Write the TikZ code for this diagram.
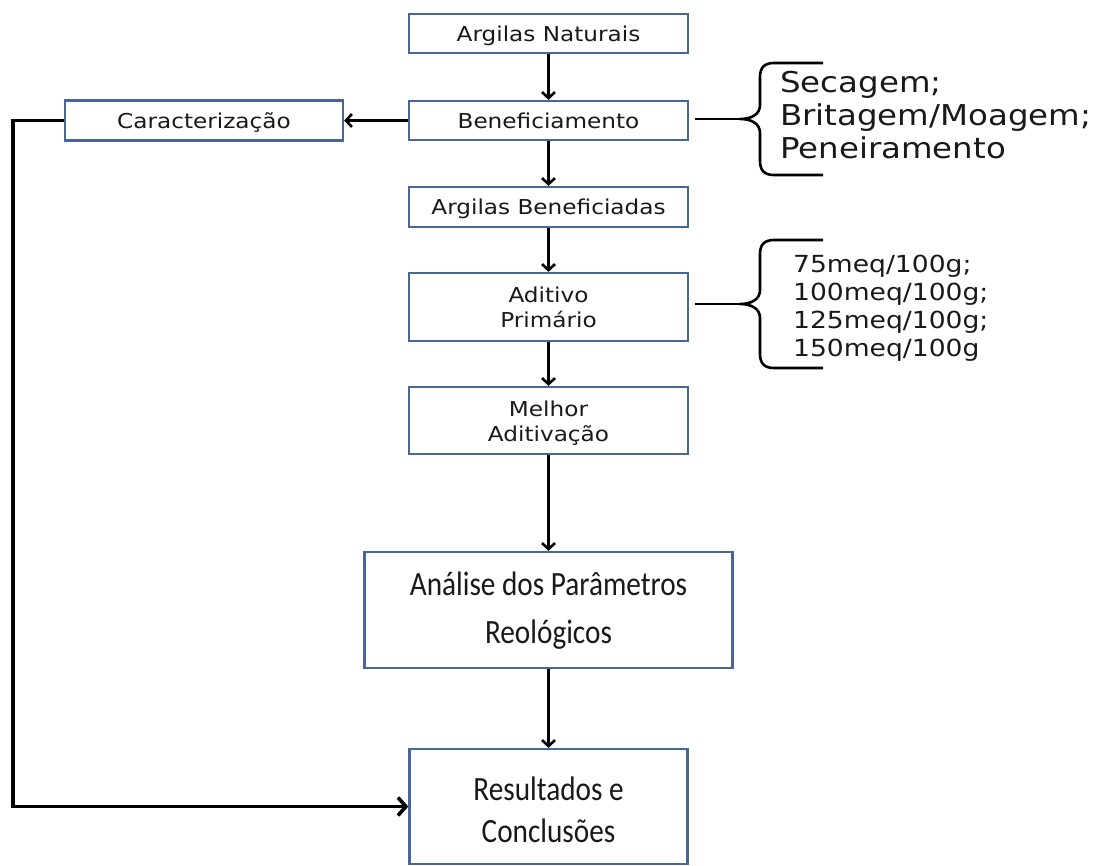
\documentclass[tikz,border=0pt]{standalone}
\usepackage{fontspec}
\usetikzlibrary{arrows.meta}
\newfontfamily\boxfont[FakeStretch=1.13]{DejaVu Sans}
\newfontfamily\bigfont[FakeStretch=0.86]{Carlito}
\definecolor{boxblue}{RGB}{72,102,150}
\definecolor{txt}{RGB}{25,25,25}
\tikzset{
  flow/.style={draw=boxblue, line width=2.3pt, inner sep=0pt, fill=white, text=txt,
    font=\boxfont\fontsize{20.5}{25}\selectfont, minimum width=279pt},
  bigflow/.style={flow, font=\bigfont\fontsize{34}{48}\selectfont},
  arr/.style={line width=2.6pt, -{Straight Barb[length=6pt,width=13pt]}},
  fbarr/.style={line width=3.6pt, -{Straight Barb[length=8pt,width=18pt]}},
  bline/.style={line width=2.6pt},
  bracetxt/.style={anchor=base west, inner sep=0pt, text=txt}
}
\begin{document}
\begin{tikzpicture}[x=1pt,y=-1pt]
\useasboundingbox (0,0) rectangle (1102,865);

\node[flow, minimum height=39pt, text height=17pt, text depth=2pt] (nat) at (548.5,33.5) {Argilas Naturais};
\node[flow, minimum height=39pt, text height=17pt, text depth=2pt] (ben) at (548.5,120.5) {Beneficiamento};
\node[flow, minimum width=278pt, minimum height=40pt, text height=17pt, text depth=2pt] (car) at (204,120.5) {Caracterização};
\node[flow, minimum height=40pt, text height=17pt, text depth=2pt] (aben) at (548.5,207) {Argilas Beneficiadas};
\node[flow, minimum height=68pt, text height=15pt, text depth=25pt] (adi) at (548.5,307) {\begin{tabular}[t]{@{}c@{}}Aditivo\\Primário\end{tabular}};
\node[flow, minimum height=67pt, text height=15pt, text depth=24pt] (mel) at (548.5,420.5) {\begin{tabular}[t]{@{}c@{}}Melhor\\Aditivação\end{tabular}};
\node[bigflow, minimum width=368pt, minimum height=116pt, text height=25pt, text depth=55pt] (ana) at (548.5,610) {\begin{tabular}[t]{@{}c@{}}Análise dos Parâmetros\\Reológicos\end{tabular}};
\node[bigflow, font=\bigfont\fontsize{34}{42}\selectfont, minimum width=278pt, minimum height=115pt, text height=25pt, text depth=38pt] (res) at (548.5,806.5) {\begin{tabular}[t]{@{}c@{}}Resultados e\\Conclusões\end{tabular}};

% vertical flow
\draw[arr] (nat) -- (ben);
\draw[arr] (ben) -- (aben);
\draw[arr] (aben) -- (adi);
\draw[arr] (adi) -- (mel);
\draw[arr] (mel) -- (ana);
\draw[arr] (ana) -- (res);
\draw[arr] (ben.west) -- (ben.west -| car.east);

% feedback line
\coordinate (fbc) at (13,120.5);
\draw[fbarr] (car.west) -- (car.west -| fbc) |- (res.west);

% brace 1
\coordinate (t1) at (740,119);
\draw[bline] ([xshift=6pt]ben.east |- t1) -- (t1);
\draw[bline] (823,63) -- (774,63) .. controls (765,63) and (760,67) .. (760,77)
  -- (760,105) .. controls (760,114) and (752,119) .. (t1)
  .. controls (752,119) and (760,124) .. (760,133)
  -- (760,161) .. controls (760,171) and (765,175) .. (774,175) -- (823,175);
\node[bracetxt, font=\boxfont\fontsize{28.7}{33}\selectfont] (b1txt) at (780,92)
  {\begin{tabular}[t]{@{}l@{}}Secagem;\\Britagem/Moagem;\\Peneiramento\end{tabular}};

% brace 2
\coordinate (t2) at (740,304);
\draw[bline] ([xshift=6pt]adi.east |- t2) -- (t2);
\draw[bline] (823,240) -- (774,240) .. controls (765,240) and (760,244) .. (760,254)
  -- (760,290) .. controls (760,299) and (752,304) .. (t2)
  .. controls (752,304) and (760,309) .. (760,318)
  -- (760,354) .. controls (760,364) and (765,368) .. (774,368) -- (823,368);
\node[bracetxt, font=\boxfont\fontsize{23.5}{28.3}\selectfont] (b2txt) at (793,272)
  {\begin{tabular}[t]{@{}l@{}}75meq/100g;\\100meq/100g;\\125meq/100g;\\150meq/100g\end{tabular}};
\end{tikzpicture}
\end{document}
